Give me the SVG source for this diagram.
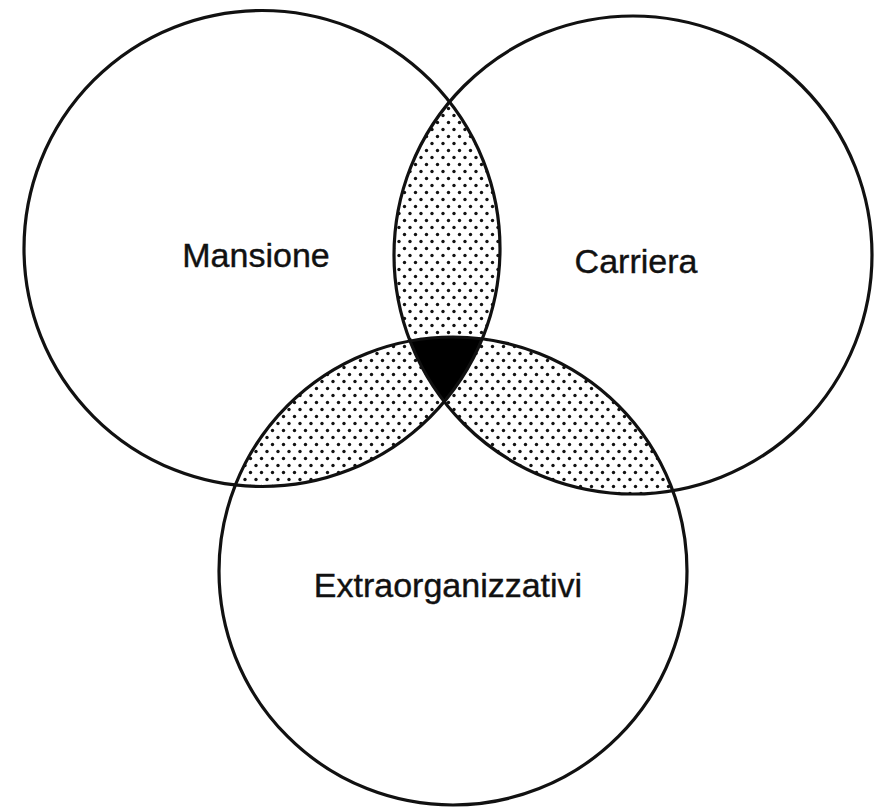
<svg xmlns="http://www.w3.org/2000/svg" width="876" height="811" viewBox="0 0 876 811">
  <defs>
    <pattern id="dots" patternUnits="userSpaceOnUse" width="11" height="14">
      <circle cx="3" cy="3.5" r="1.7" fill="#111"/>
      <circle cx="8.5" cy="10.5" r="1.7" fill="#111"/>
    </pattern>
  </defs>
  <style>
    .ring { fill: none; stroke: #111; stroke-width: 3.2; }
    .lens { fill: url(#dots); stroke: none; }
    .core { fill: #000; stroke: none; }
    .label { font-family: "Liberation Sans", Arial, sans-serif; font-size: 34px; fill: #111; text-anchor: middle; stroke: #111; stroke-width: 0.4; }
  </style>
  <rect width="876" height="811" fill="#fff"/>
  <g id="overlaps">
    <path class="lens" d="M449.5,101.9 A238,238 0 0 1 444.2,401.6 A239,239 0 0 1 449.5,101.9 Z"/>
    <path class="lens" d="M482.2,338.9 A238,238 0 0 1 235.4,485.0 A234,234 0 0 1 482.2,338.9 Z"/>
    <path class="lens" d="M672.8,490.6 A239,239 0 0 1 410.0,341.0 A234,234 0 0 1 672.8,490.6 Z"/>
    <path class="core" d="M410.0,341.0 A234,234 0 0 1 482.2,338.9 A238,238 0 0 1 444.2,401.6 A239,239 0 0 1 410.0,341.0 Z"/>
  </g>
  <g id="mansione">
    <circle class="ring" cx="262" cy="248.5" r="238"/>
    <text class="label" x="256" y="267">Mansione</text>
  </g>
  <g id="carriera">
    <circle class="ring" cx="633" cy="255" r="239"/>
    <text class="label" x="636" y="273">Carriera</text>
  </g>
  <g id="extraorganizzativi">
    <circle class="ring" cx="453" cy="571" r="234"/>
    <text class="label" x="448" y="597">Extraorganizzativi</text>
  </g>
  <g id="connectors"/>
</svg>
